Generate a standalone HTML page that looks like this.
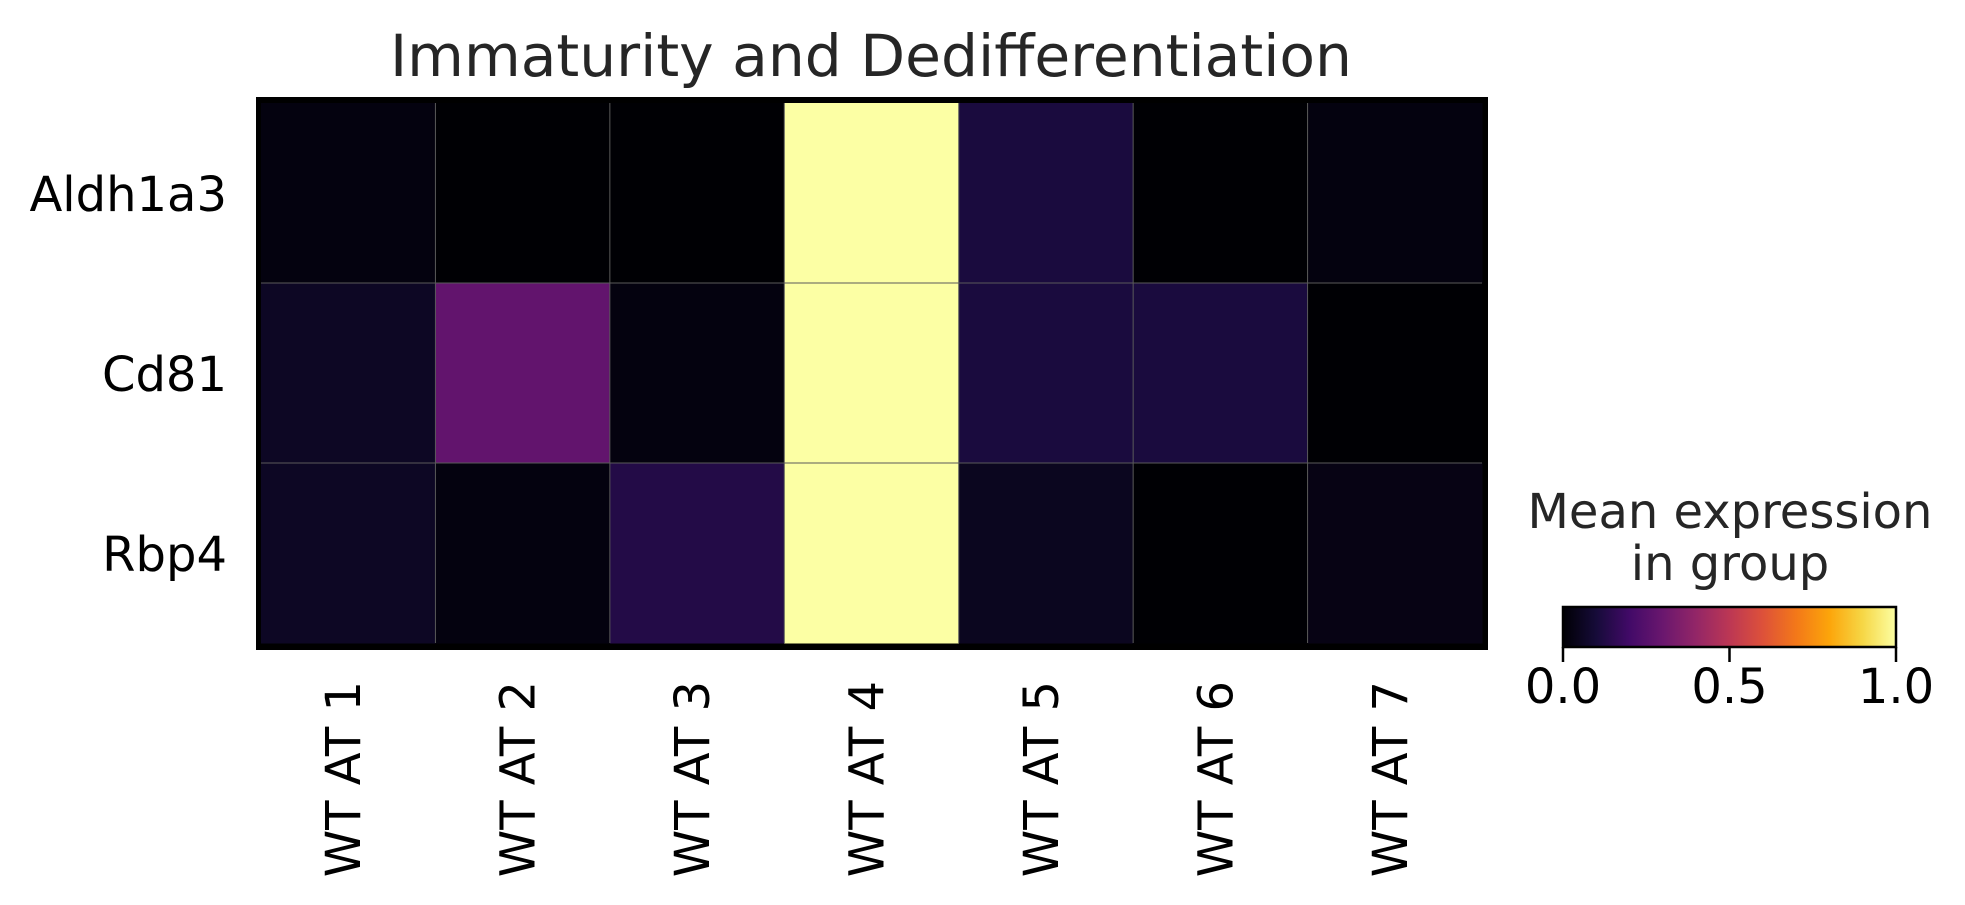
<!DOCTYPE html>
<html><head><meta charset="utf-8"><style>
html,body{margin:0;padding:0;background:#fff;}
svg{display:block;font-family:"DejaVu Sans","Liberation Sans",sans-serif;}
</style></head><body>
<svg id="chart" width="1965" height="905" viewBox="0 0 1965 905" xmlns="http://www.w3.org/2000/svg">
  <defs>
    <linearGradient id="inferno" x1="0" x2="1" y1="0" y2="0">
      <stop offset="0" stop-color="#000004"/><stop offset="0.1" stop-color="#160b39"/>
      <stop offset="0.2" stop-color="#420a68"/><stop offset="0.3" stop-color="#6a176e"/>
      <stop offset="0.4" stop-color="#932667"/><stop offset="0.5" stop-color="#bc3754"/>
      <stop offset="0.6" stop-color="#dd513a"/><stop offset="0.7" stop-color="#f37819"/>
      <stop offset="0.8" stop-color="#fca50a"/><stop offset="0.9" stop-color="#f6d746"/>
      <stop offset="1" stop-color="#fcffa4"/>
    </linearGradient>
  </defs>
  <text x="871" y="76" text-anchor="middle" font-size="58" fill="#262626" textLength="962" lengthAdjust="spacingAndGlyphs">Immaturity and Dedifferentiation</text>
  <rect x="256" y="97" width="1232" height="553" fill="#000"/>
  <g id="cells"></g>
  <g id="grid"></g>
  <g id="ylabels"></g>
  <g id="xlabels"></g>
  <g>
    <text x="1730" y="528" text-anchor="middle" font-size="48" fill="#262626">Mean expression</text>
    <text x="1730" y="580" text-anchor="middle" font-size="48" fill="#262626">in group</text>
    <rect x="1563" y="607" width="333" height="40" fill="url(#inferno)" stroke="#000" stroke-width="2.5"/>
    <g id="cbticks"></g>
  </g>
</svg>
<script>
const genes = ["Aldh1a3", "Cd81", "Rbp4"];
const groups = ["WT AT 1", "WT AT 2", "WT AT 3", "WT AT 4", "WT AT 5", "WT AT 6", "WT AT 7"];
const rowAldh1a3 = [0.02, 0.0, 0.0, 1.0, 0.11, 0.0, 0.02];
const rowCd81 = [0.06, 0.28, 0.02, 1.0, 0.11, 0.11, 0.0];
const rowRbp4 = [0.06, 0.02, 0.13, 1.0, 0.05, 0.0, 0.03];
const cbTicks = [0.0, 0.5, 1.0];
const cbTickLabels = ["0.0", "0.5", "1.0"];

const values = [rowAldh1a3, rowCd81, rowRbp4];
const NS = "http://www.w3.org/2000/svg";
const X0 = 261, X1 = 1482, Y0 = 103, Y1 = 643;
const cw = (X1 - X0) / groups.length, rh = (Y1 - Y0) / genes.length;
const xPos = i => X0 + i * cw;
const yPos = j => Y0 + j * rh;
const stops = ["#000004","#160b39","#420a68","#6a176e","#932667","#bc3754","#dd513a","#f37819","#fca50a","#f6d746","#fcffa4"];
function hex(c){return [1,3,5].map(k=>parseInt(c.substr(k,2),16));}
function inferno(v){
  v = Math.max(0, Math.min(1, v));
  const t = v * 10, i = Math.min(9, Math.floor(t)), f = t - i;
  const a = hex(stops[i]), b = hex(stops[i+1]);
  return "rgb(" + a.map((x,k)=>Math.round(x + (b[k]-x)*f)).join(",") + ")";
}
function mk(tag, attrs, parent){
  const el = document.createElementNS(NS, tag);
  for (const k in attrs) el.setAttribute(k, attrs[k]);
  parent.appendChild(el);
  return el;
}
const cells = document.getElementById("cells");
values.forEach((row, j) => row.forEach((v, i) => {
  const r = mk("rect", {x: xPos(i), y: yPos(j), width: cw + 0.5, height: rh + 0.5, fill: inferno(v)}, cells);
  
  
}));
const grid = document.getElementById("grid");
for (let i = 1; i < groups.length; i++) {
  const l = mk("line", {x1: xPos(i), x2: xPos(i), y1: Y0, y2: Y1, stroke: "#5a5a5a", "stroke-width": 1}, grid);
  
  
}
for (let j = 1; j < genes.length; j++) {
  const l = mk("line", {x1: X0, x2: X1, y1: yPos(j), y2: yPos(j), stroke: "#5a5a5a", "stroke-width": 1}, grid);
  
  
}
const yl = document.getElementById("ylabels");
genes.forEach((g, j) => {
  const t = mk("text", {x: 227, y: yPos(j) + rh / 2 + 18, "text-anchor": "end", "font-size": 48, fill: "#000"}, yl);
  t.textContent = g;
  
  
});
const xl = document.getElementById("xlabels");
groups.forEach((g, i) => {
  const cx = xPos(i) + cw / 2 + 12, cy = 681;
  const t = mk("text", {x: cx, y: cy, "text-anchor": "end", "font-size": 48, fill: "#000", transform: "rotate(-90 " + cx + " " + cy + ")"}, xl);
  t.textContent = g;
  
  
});
const cb = document.getElementById("cbticks");
const cbX = v => 1563 + v * 333;
cbTicks.forEach((v, k) => {
  const l = mk("line", {x1: cbX(v), x2: cbX(v), y1: 647, y2: 662, stroke: "#000", "stroke-width": 2.5}, cb);
  
  
  const t = mk("text", {x: cbX(v), y: 703, "text-anchor": "middle", "font-size": 48, fill: "#000"}, cb);
  t.textContent = cbTickLabels[k];
  
  
});
</script>
</body></html>
